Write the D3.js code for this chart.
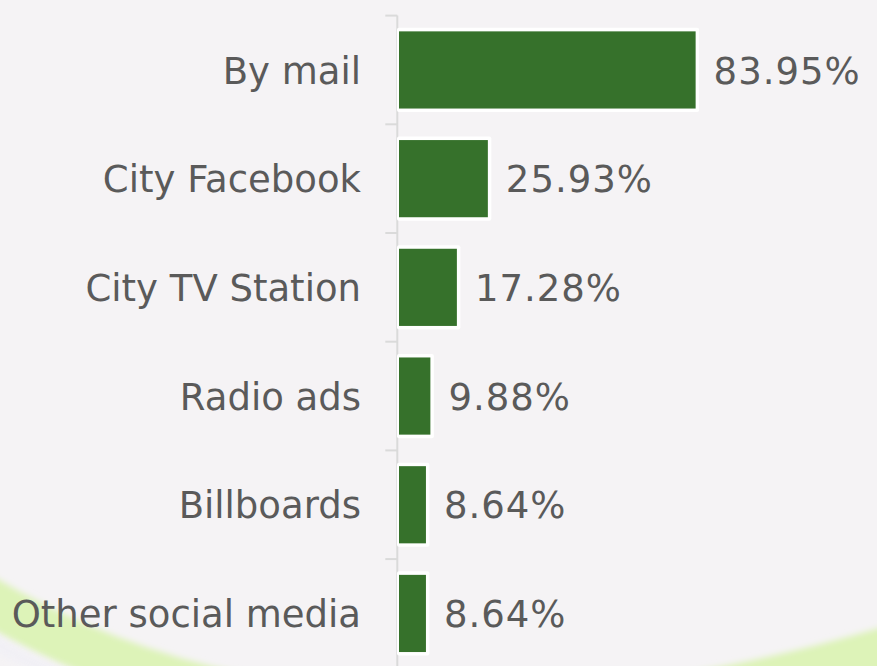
<!DOCTYPE html>
<html>
<head>
<meta charset="utf-8">
<script src="https://cdn.jsdelivr.net/npm/d3@7/dist/d3.min.js"></script>
<style>
  html, body { margin: 0; padding: 0; background: #f5f3f5; }
  svg { display: block; }
</style>
</head>
<body>
<svg id="chart" width="877" height="666"></svg>
<script>
const categories = ["By mail", "City Facebook", "City TV Station", "Radio ads", "Billboards", "Other social media"];
const values = [83.95, 25.93, 17.28, 9.88, 8.64, 8.64];
const valueLabels = ["83.95%", "25.93%", "17.28%", "9.88%", "8.64%", "8.64%"];

const W = 877, H = 666;
const svg = d3.select("#chart");

// background
svg.append("rect").attr("width", W).attr("height", H).attr("fill", "#f5f3f5");

// decorative swoosh
const defs = svg.append("defs");
defs.append("filter").attr("id", "blur").attr("x", "-20%").attr("y", "-50%").attr("width", "140%").attr("height", "200%")
  .append("feGaussianBlur").attr("stdDeviation", 3);
svg.append("path")
  .attr("d", "M -40 583 Q 330 820 917 641")
  .attr("fill", "none")
  .attr("stroke", "#ddf3b8")
  .attr("stroke-width", 46)
  .attr("filter", "url(#blur)");
svg.append("path")
  .attr("d", "M -40 622 Q 330 859 917 680")
  .attr("fill", "none")
  .attr("stroke", "#f1f0f6")
  .attr("stroke-width", 14)
  .attr("filter", "url(#blur)")
  .attr("opacity", 0.8);

const y = d3.scaleBand()
  .domain(categories)
  .range([15.6, 667.8])
  .paddingInner(0.29)
  .paddingOuter(0.145);

const x = d3.scaleLinear().domain([0, 100]).range([395, 395 + 358.1]);

// axis line and ticks at band boundaries
const axisX = 397.3;
svg.append("line")
  .attr("x1", axisX).attr("x2", axisX)
  .attr("y1", y.range()[0]).attr("y2", y.range()[1])
  .attr("stroke", "#dadada").attr("stroke-width", 2);

const boundaries = categories.map(c => y(c) - y.step() * y.paddingInner() / 2 );
boundaries.push(y.range()[1]);
svg.selectAll(".tick").data(boundaries).enter().append("line")
  .attr("x1", axisX - 12).attr("x2", axisX)
  .attr("y1", d => d).attr("y2", d => d)
  .attr("stroke", "#dadada").attr("stroke-width", 2);

const bars = svg.selectAll(".bar").data(categories.map((c, i) => ({c, v: values[i], l: valueLabels[i]})))
  .enter().append("g");

const inset = 4;
bars.append("rect")
  .attr("x", d => x(0) + inset - 2)
  .attr("y", d => y(d.c) - 3.5)
  .attr("width", d => x(d.v) - x(0) - inset + 5.5)
  .attr("height", y.bandwidth() + 7)
  .attr("rx", 2)
  .attr("fill", "#ffffff");
bars.append("rect")
  .attr("x", d => x(0) + inset)
  .attr("y", d => y(d.c))
  .attr("width", d => x(d.v) - x(0) - inset)
  .attr("height", y.bandwidth())
  .attr("fill", "#36712b");

const font = "Verdana, 'DejaVu Sans', sans-serif";
bars.append("text")
  .attr("x", 361)
  .attr("y", d => y(d.c) + y.bandwidth() / 2)
  .attr("dy", "0.37em")
  .attr("text-anchor", "end")
  .attr("font-family", font)
  .attr("font-size", 37)
  .attr("fill", "#5a5a5a")
  .text(d => d.c);

bars.append("text")
  .attr("x", d => x(d.v) + 18)
  .attr("y", d => y(d.c) + y.bandwidth() / 2)
  .attr("dy", "0.37em")
  .attr("text-anchor", "start")
  .attr("font-family", font)
  .attr("font-size", 37)
  .attr("letter-spacing", 1)
  .attr("fill", "#5a5a5a")
  .text(d => d.l);
</script>
</body>
</html>
